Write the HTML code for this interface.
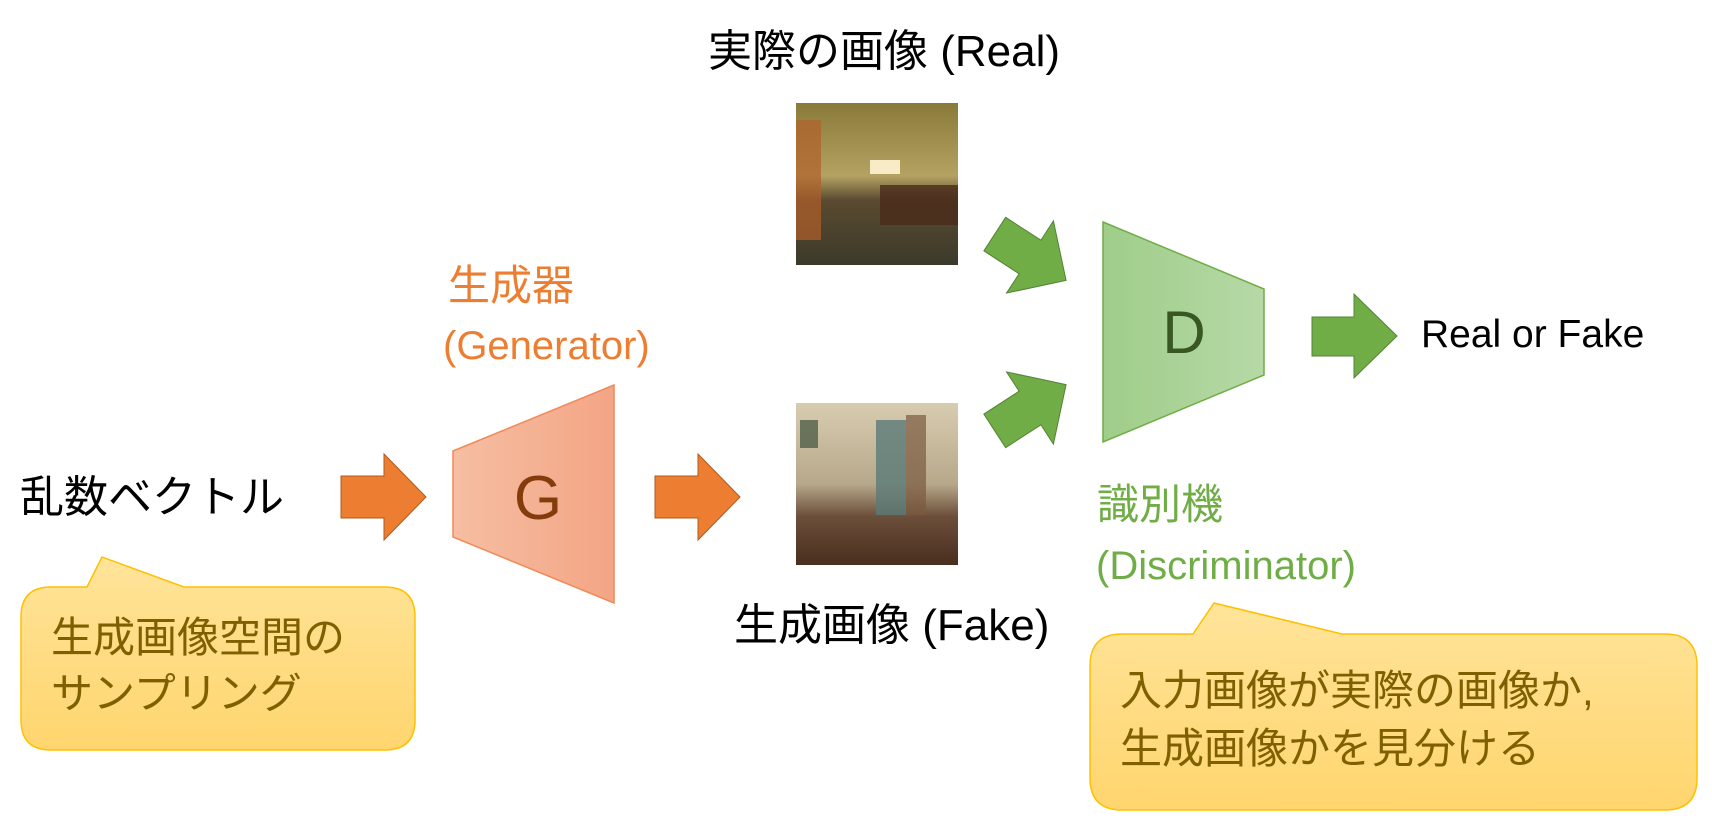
<!DOCTYPE html>
<html><head><meta charset="utf-8"><style>
html,body{margin:0;padding:0;background:#fff;}
svg{display:block;}
text{font-family:"Liberation Sans","Noto Sans CJK JP",sans-serif;}
</style></head><body>
<svg width="1712" height="821" viewBox="0 0 1712 821" xmlns="http://www.w3.org/2000/svg">
<defs>
<linearGradient id="gG" x1="0" x2="1" y1="0" y2="0"><stop offset="0" stop-color="#f6bea2"/><stop offset="1" stop-color="#f3a585"/></linearGradient>
<linearGradient id="gD" x1="0" x2="1" y1="0" y2="0"><stop offset="0" stop-color="#9fcd8a"/><stop offset="1" stop-color="#b6d9a6"/></linearGradient>
<linearGradient id="gC" x1="0" x2="0" y1="0" y2="1"><stop offset="0" stop-color="#ffe49a"/><stop offset="1" stop-color="#ffd56e"/></linearGradient>
<linearGradient id="real" x1="0" x2="0" y1="0" y2="1"><stop offset="0" stop-color="#8a7a3a"/><stop offset="0.45" stop-color="#b3a262"/><stop offset="0.6" stop-color="#5a4a30"/><stop offset="1" stop-color="#3b3a2a"/></linearGradient>
<linearGradient id="fake" x1="0" x2="0" y1="0" y2="1"><stop offset="0" stop-color="#d8ccb0"/><stop offset="0.5" stop-color="#b7a88a"/><stop offset="0.7" stop-color="#6b4f3a"/><stop offset="1" stop-color="#4a2e1e"/></linearGradient>
</defs>

<rect x="796" y="103" width="162" height="162" fill="url(#real)"/>
<rect x="796" y="120" width="25" height="120" fill="#b0602a" opacity="0.7"/>
<rect x="870" y="160" width="30" height="14" fill="#fff4d0" opacity="0.9"/>
<rect x="880" y="185" width="78" height="40" fill="#4a2a1a" opacity="0.8"/>
<rect x="796" y="403" width="162" height="162" fill="url(#fake)"/>
<rect x="876" y="420" width="30" height="95" fill="#5a7a78" opacity="0.8"/>
<rect x="906" y="415" width="20" height="100" fill="#7a5a40" opacity="0.7"/>
<rect x="800" y="420" width="18" height="28" fill="#506048" opacity="0.8"/>

<text x="708" y="66" font-size="44" fill="#000">実際の画像 (Real)</text>
<text x="734" y="640" font-size="44" fill="#000">生成画像 (Fake)</text>
<text x="448" y="300" font-size="42" fill="#ed7d31">生成器</text>
<text x="443" y="359" font-size="40" fill="#ed7d31">(Generator)</text>
<text x="1097" y="519" font-size="42" fill="#70ad47">識別機</text>
<text x="1096" y="579" font-size="40" fill="#70ad47">(Discriminator)</text>
<text x="1421" y="347" font-size="39" fill="#000">Real or Fake</text>
<text x="20" y="512" font-size="44" fill="#000">乱数ベクトル</text>

<polygon points="453,451 614,385 614,603 453,537" fill="url(#gG)" stroke="#f08a58" stroke-width="1.5"/>
<text x="538" y="519" font-size="62" fill="#843c0c" text-anchor="middle">G</text>
<polygon points="1103,222 1264,289 1264,375 1103,442" fill="url(#gD)" stroke="#70ad47" stroke-width="1.5"/>
<text x="1184" y="353" font-size="60" fill="#385723" text-anchor="middle">D</text>

<polygon points="341,476 384,476 384,454 426,497 384,540 384,518 341,518" fill="#ed7d31" stroke="#ae5a21" stroke-width="1"/>
<polygon points="655,476 698,476 698,454 740,497 698,540 698,518 655,518" fill="#ed7d31" stroke="#ae5a21" stroke-width="1"/>
<polygon points="1312,317 1354,317 1354,294 1397,336 1354,378 1354,356 1312,356" fill="#70ad47" stroke="#548235" stroke-width="1"/>
<g transform="translate(1030,257) rotate(33)">
<polygon points="-42,-20 0,-20 0,-43 43,0 0,43 0,20 -42,20" fill="#70ad47" stroke="#548235" stroke-width="1"/>
</g>
<g transform="translate(1030,408) rotate(-33)">
<polygon points="-42,-20 0,-20 0,-43 43,0 0,43 0,20 -42,20" fill="#70ad47" stroke="#548235" stroke-width="1"/>
</g>

<path d="M51,587 L87,587 L102,557 L184,587 L385,587 Q415,587 415,617 L415,720 Q415,750 385,750 L51,750 Q21,750 21,720 L21,617 Q21,587 51,587 Z" fill="url(#gC)" stroke="#ffc000" stroke-width="1.5"/>
<text x="51" y="652" font-size="42" fill="#7f6000">生成画像空間の</text>
<text x="51" y="708" font-size="42" fill="#7f6000">サンプリング</text>

<path d="M1122,634 L1193,634 L1214,603 L1342,634 L1665,634 Q1697,634 1697,666 L1697,778 Q1697,810 1665,810 L1122,810 Q1090,810 1090,778 L1090,666 Q1090,634 1122,634 Z" fill="url(#gC)" stroke="#ffc000" stroke-width="1.5"/>
<text x="1120" y="705" font-size="42" fill="#7f6000">入力画像が実際の画像か,</text>
<text x="1120" y="763" font-size="42" fill="#7f6000">生成画像かを見分ける</text>
</svg>
</body></html>
